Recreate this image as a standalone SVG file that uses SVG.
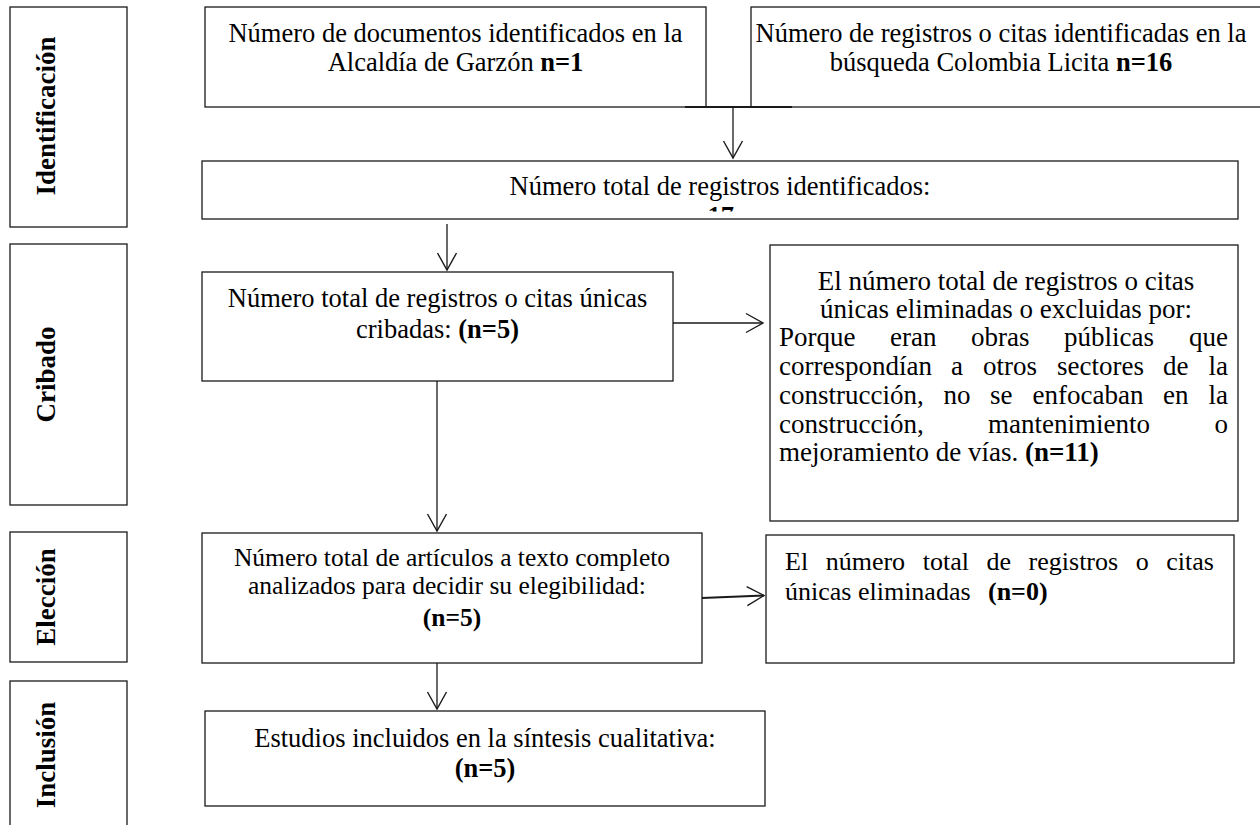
<svg xmlns="http://www.w3.org/2000/svg" width="1260" height="825" viewBox="0 0 1260 825">
<style>
.box{fill:#fff;stroke:#1a1a1a;stroke-width:1.3}
.t{font-family:"Liberation Serif","Times New Roman",serif;font-size:26.5px;fill:#000}
.m{text-anchor:middle}
.b{font-weight:bold}
.lbl{font-family:"Liberation Serif","Times New Roman",serif;font-weight:bold;font-size:27px;text-anchor:middle;fill:#000}
.c{stroke:#1a1a1a;stroke-width:1.3;fill:none}
</style>
<defs>
<marker id="ah" markerUnits="userSpaceOnUse" markerWidth="22" markerHeight="24" viewBox="-19 -12 22 24" refX="0" refY="0" orient="auto">
<path d="M-17,-9.5 L0,0 L-17,9.5" fill="none" stroke="#1a1a1a" stroke-width="1.4"/>
</marker>
<clipPath id="clip3"><rect x="202" y="161" width="1036" height="50.5"/></clipPath>
</defs>
<rect width="1260" height="825" fill="#fff"/>

<g id="stage-identificacion">
<rect class="box" x="10" y="7" width="117" height="220"/>
<text class="lbl" transform="translate(55,116) rotate(-90)">Identificación</text>
</g>
<g id="stage-cribado">
<rect class="box" x="10" y="244" width="117" height="261"/>
<text class="lbl" transform="translate(55,374.5) rotate(-90)">Cribado</text>
</g>
<g id="stage-eleccion">
<rect class="box" x="10" y="532" width="117" height="130"/>
<text class="lbl" transform="translate(55,597) rotate(-90)">Elección</text>
</g>
<g id="stage-inclusion">
<rect class="box" x="10" y="681" width="117" height="160"/>
<text class="lbl" transform="translate(55,755) rotate(-90)">Inclusión</text>
</g>

<g id="node-alcaldia">
<rect class="box" x="205" y="7" width="501" height="100"/>
<text class="t m" x="455.5" y="42">Número de documentos identificados en la</text>
<text class="t m" x="455.5" y="71">Alcaldía de Garzón <tspan class="b">n=1</tspan></text>
</g>
<g id="node-colombia">
<rect class="box" x="751" y="7" width="515" height="100"/>
<text class="t m" x="1001" y="42">Número de registros o citas identificadas en la</text>
<text class="t m" x="1001" y="71">búsqueda Colombia Licita <tspan class="b">n=16</tspan></text>
</g>
<g id="node-total">
<rect class="box" x="202" y="161" width="1036" height="58"/>
<text class="t m" x="720" y="195">Número total de registros identificados:</text>
<g clip-path="url(#clip3)"><text class="t b" x="734" y="225" text-anchor="end">n=17</text></g>
</g>
<g id="node-cribadas">
<rect class="box" x="202" y="272" width="471" height="109"/>
<text class="t m" x="437.5" y="307">Número total de registros o citas únicas</text>
<text class="t m" x="437.5" y="338">cribadas: <tspan class="b">(n=5)</tspan></text>
</g>
<g id="node-excluidas" class="t" style="font-size:27px">
<rect class="box" x="770" y="245" width="468" height="276"/>
<text class="m" x="1006" y="290">El número total de registros o citas</text>
<text class="m" x="1006" y="318">únicas eliminadas o excluidas por:</text>
<text y="346"><tspan x="779">Porque</tspan><tspan x="890">eran</tspan><tspan x="971">obras</tspan><tspan x="1064">públicas</tspan><tspan x="1189">que</tspan></text>
<text y="375"><tspan x="779">correspondían</tspan><tspan x="951">a</tspan><tspan x="983">otros</tspan><tspan x="1057">sectores</tspan><tspan x="1163">de</tspan><tspan x="1208.5">la</tspan></text>
<text y="404"><tspan x="779">construcción,</tspan><tspan x="943.5">no</tspan><tspan x="990">se</tspan><tspan x="1032.5">enfocaban</tspan><tspan x="1163">en</tspan><tspan x="1208.5">la</tspan></text>
<text y="433"><tspan x="779">construcción,</tspan><tspan x="988">mantenimiento</tspan><tspan x="1214.5">o</tspan></text>
<text x="779" y="461">mejoramiento de vías. <tspan class="b">(n=11)</tspan></text>
</g>
<g id="node-elegibilidad">
<rect class="box" x="202" y="533" width="500" height="130"/>
<text class="t m" x="452" y="566" style="font-size:25.5px">Número total de artículos a texto completo</text>
<text class="t m" x="447" y="594" style="font-size:25.5px">analizados para decidir su elegibilidad:</text>
<text class="t m b" x="452" y="626" style="font-size:25.5px">(n=5)</text>
</g>
<g id="node-eliminadas" class="t" style="font-size:26px">
<rect class="box" x="766" y="535" width="468" height="128"/>
<text y="570"><tspan x="785">El</tspan><tspan x="825.7">número</tspan><tspan x="922.7">total</tspan><tspan x="986.5">de</tspan><tspan x="1028.6">registros</tspan><tspan x="1135.7">o</tspan><tspan x="1166.3">citas</tspan></text>
<text y="600"><tspan x="785">únicas eliminadas</tspan><tspan x="988" class="b">(n=0)</tspan></text>
</g>
<g id="node-incluidos">
<rect class="box" x="205" y="711" width="560" height="95"/>
<text class="t m" x="485" y="747">Estudios incluidos en la síntesis cualitativa:</text>
<text class="t m b" x="485" y="777">(n=5)</text>
</g>

<g id="connectors">
<line class="c" x1="685" y1="107" x2="792" y2="107" style="stroke-width:2.2"/>
<line class="c" x1="733" y1="107" x2="733" y2="158" marker-end="url(#ah)"/>
<line class="c" x1="447" y1="224" x2="447" y2="270" marker-end="url(#ah)"/>
<line class="c" x1="673" y1="323" x2="763" y2="323" marker-end="url(#ah)"/>
<line class="c" x1="437" y1="381" x2="437" y2="531" marker-end="url(#ah)"/>
<line class="c" x1="702" y1="598" x2="764" y2="595.5" marker-end="url(#ah)" style="stroke-width:1.8"/>
<line class="c" x1="437" y1="663" x2="437" y2="709" marker-end="url(#ah)"/>
</g>
</svg>
